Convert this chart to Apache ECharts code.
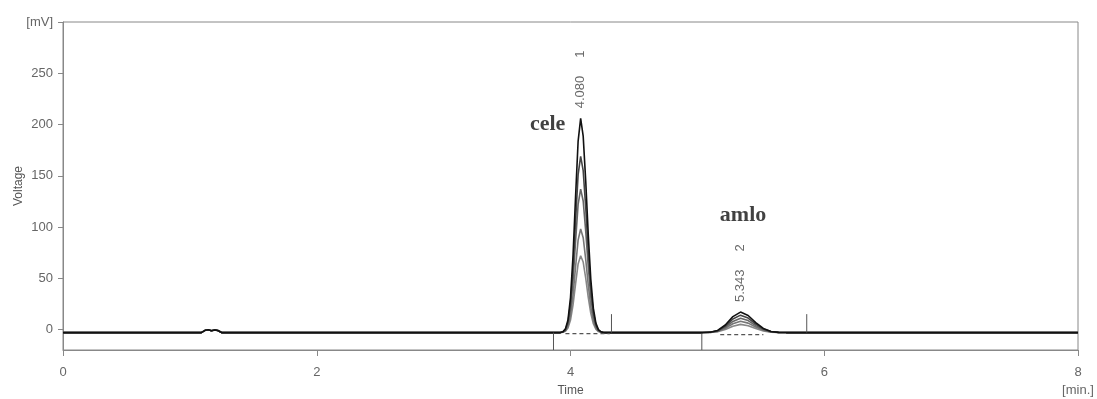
<!DOCTYPE html>
<html lang="en">
<head>
    <meta charset="utf-8">
    <style type="text/css">
    body {
        margin: 0;
        background-color: #fff
    }

    #echarts {
        width: 1097px;
        height: 399px;
    }
    </style>
</head>
<body>
    <div id="echarts"></div>
    <script type="text/javascript" src="https://cdn.jsdelivr.net/npm/echarts@6/dist/echarts.min.js"></script>
    <script type="text/javascript">
    // baseline level of all runs (mV)
    var baseline = -3;

    // small bump near 1.15 min
    var bumpTimes = [1.09, 1.12, 1.145, 1.17, 1.195, 1.22, 1.25];
    var bumpValues = [-3, -0.8, -0.3, -1.3, -0.4, -1, -3];

    // peak 1 (cele) sample times
    var peak1Times = [3.92, 3.94, 3.96, 3.98, 4.00, 4.02, 4.04, 4.06, 4.08, 4.10, 4.12, 4.14, 4.16, 4.18, 4.20, 4.22, 4.24, 4.26];
    // peak 2 (amlo) sample times
    var peak2Times = [5.04, 5.10, 5.16, 5.22, 5.28, 5.34, 5.40, 5.46, 5.52, 5.58, 5.64, 5.70];

    // five overlaid runs
    var runA1 = [-3, -2.2, 0.6, 9.3, 31.1, 72.2, 129.7, 183.6, 206, 188.7, 144.8, 92.7, 49, 20.8, 6.2, -0.1, -2.2, -3];
    var runB1 = [-3, -2.3, -0.1, 7.1, 25, 59, 106, 151, 169, 155, 119, 76, 40, 16.6, 4.6, -0.6, -2.3, -3];
    var runC1 = [-3, -2.4, -0.6, 5.3, 19.8, 47.4, 85.9, 122, 137, 125.4, 96, 61.1, 31.9, 13, 3.2, -1, -2.4, -3];
    var runD1 = [-3, -2.6, -1.3, 3, 13.5, 33.4, 61.1, 87.2, 98, 89.6, 68.4, 43.3, 22.1, 8.5, 1.4, -1.6, -2.6, -3];
    var runE1 = [-3, -2.7, -1.7, 1.4, 9.2, 24, 44.6, 64, 72, 65.8, 50, 31.4, 15.7, 5.6, 0.3, -2, -2.7, -3];

    var runA2 = [-3, -2.6, -0.9, 4.4, 12.6, 17, 13.7, 6.7, 1, -1.9, -2.8, -3];
    var runB2 = [-3, -2.7, -1.2, 3.3, 10.3, 14, 11.2, 5.3, 0.4, -2, -2.8, -3];
    var runC2 = [-3, -2.7, -1.5, 2.2, 7.9, 11, 8.7, 3.8, -0.2, -2.2, -2.8, -3];
    var runD2 = [-3, -2.8, -1.8, 1.1, 5.6, 8, 6.2, 2.4, -0.8, -2.4, -2.9, -3];
    var runE2 = [-3, -2.9, -2.2, 0, 3.2, 5, 3.7, 0.9, -1.4, -2.6, -2.9, -3];

    var runs = [
        { name: 'E', p1: runE1, p2: runE2, color: '#888' },
        { name: 'D', p1: runD1, p2: runD2, color: '#777' },
        { name: 'C', p1: runC1, p2: runC2, color: '#666' },
        { name: 'B', p1: runB1, p2: runB2, color: '#444' },
        { name: 'A', p1: runA1, p2: runA2, color: '#111' }
    ];

    // integration baselines (dashed) and start/end marks
    var dashed1 = [[3.96, -4], [4.31, -4]];
    var dashed2 = [[5.18, -5], [5.52, -5]];
    var peakMarks = [
        [3.866, -3, -20],
        [4.323, -3, 15],
        [5.035, -4, -20],
        [5.862, -3, 15]
    ];

    // annotations
    var peakLabels = [[4.08, 206, '4.080', '1'], [5.343, 17, '5.343', '2']];
    var compoundLabels = [[3.82, 200, 'cele'], [5.36, 111, 'amlo']];

    var yTickValues = [0, 50, 100, 150, 200, 250, 300];

    function buildTrace(run) {
        var d = [[0, baseline]];
        bumpTimes.forEach(function(t, i) { d.push([t, bumpValues[i]]); });
        peak1Times.forEach(function(t, i) { d.push([t, run.p1[i]]); });
        peak2Times.forEach(function(t, i) { d.push([t, run.p2[i]]); });
        d.push([8, baseline]);
        return d;
    }

    var markData = [];
    peakMarks.forEach(function(m) {
        markData.push([m[0], m[1]], [m[0], m[2]], null);
    });

    var series = runs.map(function(run) {
        return {
            name: run.name,
            type: 'line',
            data: buildTrace(run),
            showSymbol: false,
            silent: true,
            lineStyle: { color: run.color, width: 1.6 },
            z: 3
        };
    });

    series.push({
        type: 'line', data: dashed1, showSymbol: false, silent: true,
        lineStyle: { color: '#555', width: 1.2, type: [4, 3] }
    });
    series.push({
        type: 'line', data: dashed2, showSymbol: false, silent: true,
        lineStyle: { color: '#555', width: 1.2, type: [4, 3] }
    });
    series.push({
        type: 'line', data: markData, showSymbol: false, silent: true, connectNulls: false,
        lineStyle: { color: '#555', width: 1 }
    });
    series.push({
        type: 'scatter', symbolSize: 0, silent: true,
        data: peakLabels.map(function(p) { return { value: [p[0], p[1]], rt: p[2], no: p[3] }; }),
        label: {
            show: true,
            position: 'top',
            distance: 10,
            rotate: 90,
            align: 'left',
            verticalAlign: 'middle',
            fontFamily: 'Liberation Sans',
            fontSize: 13,
            color: '#444',
            formatter: function(p) { return p.data.rt + '     ' + p.data.no; }
        }
    });
    series.push({
        type: 'scatter', symbolSize: 0, silent: true,
        data: compoundLabels.map(function(c) { return { value: [c[0], c[1]], txt: c[2] }; }),
        label: {
            show: true,
            position: 'inside',
            fontFamily: 'Liberation Serif',
            fontWeight: 'bold',
            fontSize: 22,
            color: '#111',
            formatter: function(p) { return p.data.txt; }
        }
    });

    var myEcharts = echarts.init(document.getElementById('echarts'));
    var option = {
        animation: false,
        grid: {
            left: 63,
            right: 19,
            top: 22,
            bottom: 49,
            outerBoundsMode: 'none',
            containLabel: false,
            show: true,
            borderColor: '#888',
            borderWidth: 1
        },
        xAxis: {
            type: 'value',
            min: 0,
            max: 8,
            interval: 2,
            name: 'Time',
            nameLocation: 'middle',
            nameGap: 35,
            nameMoveOverlap: false,
            nameTextStyle: { fontFamily: 'Liberation Sans', fontSize: 12, color: '#555' },
            axisLine: { onZero: false, lineStyle: { color: '#888' } },
            axisTick: { length: 6, lineStyle: { color: '#888' } },
            axisLabel: {
                margin: 13,
                fontFamily: 'Liberation Sans',
                fontSize: 13,
                color: '#666',
                lineHeight: 18,
                formatter: function(v) { return v === 8 ? '8\n[min.]' : String(v); }
            },
            splitLine: { show: false }
        },
        yAxis: {
            type: 'value',
            min: -20,
            max: 300,
            name: 'Voltage',
            nameLocation: 'middle',
            nameRotate: 90,
            nameGap: 38,
            nameMoveOverlap: false,
            nameTextStyle: { fontFamily: 'Liberation Sans', fontSize: 12, color: '#555' },
            axisLine: { show: true, onZero: false, lineStyle: { color: '#888' } },
            axisTick: { show: true, length: 5, customValues: yTickValues, lineStyle: { color: '#888' } },
            axisLabel: {
                margin: 10,
                customValues: yTickValues,
                fontFamily: 'Liberation Sans',
                fontSize: 13,
                color: '#666',
                formatter: function(v) { return v === 300 ? '[mV]' : String(v); }
            },
            splitLine: { show: false }
        },
        series: series
    };
    myEcharts.setOption(option);
    </script>
</body>
</html>
